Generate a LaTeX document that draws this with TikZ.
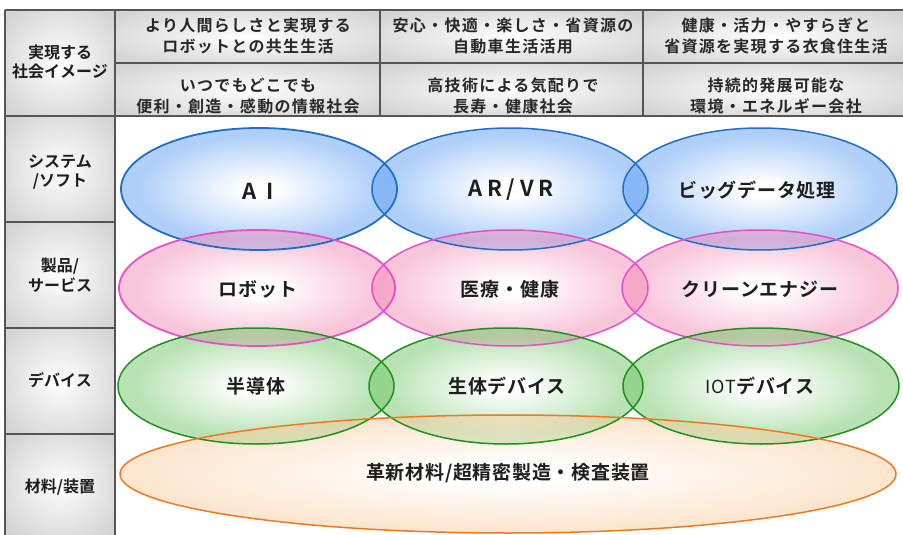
\documentclass[tikz,border=0pt]{standalone}
\usepackage{fontspec}
\setmainfont{Noto Sans CJK JP}[BoldFont={* Bold}]
\newfontfamily\hdrfont{Noto Sans CJK JP}[BoldFont={* Bold},LetterSpace=8]
\newfontfamily\sidefont{Noto Sans CJK JP}[BoldFont={* Bold}]
\newfontfamily\lblfont{Noto Sans CJK JP}[BoldFont={* Bold},LetterSpace=4]
\newfontfamily\latfont{Noto Sans CJK JP}[BoldFont={* Bold},LetterSpace=22]
\definecolor{bluebase}{RGB}{95,159,244}
\definecolor{pinkbase}{RGB}{242,140,182}
\definecolor{greenbase}{RGB}{114,198,104}
\definecolor{orangebase}{RGB}{250,205,160}
\definecolor{bluestroke}{RGB}{30,110,200}
\definecolor{pinkstroke}{RGB}{230,80,200}
\definecolor{greenstroke}{RGB}{30,145,30}
\definecolor{orangestroke}{RGB}{240,120,30}
\definecolor{gridline}{RGB}{85,85,85}
\definecolor{cellgray}{RGB}{212,212,212}
\definecolor{txtdark}{RGB}{30,30,30}
\definecolor{hdrtxt}{RGB}{40,40,40}
\pgfdeclareradialshading{blueshade}{\pgfpoint{0bp}{0bp}}{color(0bp)=(white); color(3bp)=(white); color(22bp)=(bluebase); color(50bp)=(bluebase)}
\pgfdeclareradialshading{pinkshade}{\pgfpoint{0bp}{0bp}}{color(0bp)=(white); color(3bp)=(white); color(22bp)=(pinkbase); color(50bp)=(pinkbase)}
\pgfdeclareradialshading{greenshade}{\pgfpoint{0bp}{0bp}}{color(0bp)=(white); color(3bp)=(white); color(22bp)=(greenbase); color(50bp)=(greenbase)}
\pgfdeclareradialshading{orangeshade}{\pgfpoint{0bp}{0bp}}{color(0bp)=(white); color(4bp)=(white); color(24bp)=(orangebase); color(50bp)=(orangebase)}
\pgfdeclareradialshading{cellshade}{\pgfpoint{0bp}{0bp}}{color(0bp)=(white); color(5bp)=(white!97!black); color(32bp)=(cellgray); color(50bp)=(cellgray)}
\tikzset{
  hdrtext/.style={align=center,inner sep=0pt,text=hdrtxt,font=\hdrfont\bfseries\fontsize{16}{21.5}\selectfont},
  sidetext/.style={align=center,inner sep=0pt,text=txtdark,font=\sidefont\bfseries\fontsize{16}{19.5}\selectfont},
  lbltext/.style={align=center,inner sep=0pt,text=txtdark,font=\lblfont\bfseries\fontsize{19}{22}\selectfont},
  gridrule/.style={draw=gridline,line width=1.5pt},
  ellfill/.style={opacity=0.5},
  ellline/.style={line width=1.5pt}
}
\begin{document}
\begin{tikzpicture}[x=1pt,y=-1pt]
\useasboundingbox (0,0) rectangle (903,535);
% cell backgrounds
\shade[shading=cellshade] (5,10) rectangle (115,116);
\shade[shading=cellshade] (5,116) rectangle (115,222);
\shade[shading=cellshade] (5,222) rectangle (115,328);
\shade[shading=cellshade] (5,328) rectangle (115,434);
\shade[shading=cellshade] (5,434) rectangle (115,535);
\shade[shading=cellshade] (115,10) rectangle (380,63);
\shade[shading=cellshade] (380,10) rectangle (643,63);
\shade[shading=cellshade] (643,10) rectangle (903,63);
\shade[shading=cellshade] (115,63) rectangle (380,116);
\shade[shading=cellshade] (380,63) rectangle (643,116);
\shade[shading=cellshade] (643,63) rectangle (903,116);
% grid
\draw[gridrule] (5,10) -- (903,10);
\draw[gridrule] (115,63) -- (903,63);
\draw[gridrule] (5,116) -- (903,116);
\draw[gridrule] (5,222) -- (115,222);
\draw[gridrule] (5,328) -- (115,328);
\draw[gridrule] (5,434) -- (115,434);
\draw[gridrule] (5,10) -- (5,535);
\draw[gridrule] (115,10) -- (115,535);
\draw[gridrule] (380,10) -- (380,116);
\draw[gridrule] (643,10) -- (643,116);
% header texts
\node[hdrtext] (h11) at (248,36) {より人間らしさと実現する\\ロボットとの共生生活};
\node[hdrtext] (h12) at (513,36) {安心・快適・楽しさ・省資源の\\自動車生活活用};
\node[hdrtext] (h13) at (776,36) {健康・活力・やすらぎと\\省資源を実現する衣食住生活};
\node[hdrtext] (h21) at (248,96) {いつでもどこでも\\便利・創造・感動の情報社会};
\node[hdrtext] (h22) at (513,96) {高技術による気配りで\\長寿・健康社会};
\node[hdrtext] (h23) at (776,96) {持続的発展可能な\\環境・エネルギー会社};
% side texts
\node[sidetext] (s0) at (60,62) {実現する\\社会イメージ};
\node[sidetext] (s1) at (60,172) {システム\\/ソフト};
\node[sidetext] (s2) at (60,275) {製品/\\サービス};
\node[sidetext] (s3) at (60,380) {デバイス};
\node[sidetext] (s4) at (60,487) {材料/装置};
% ellipse fills
\shade[shading=blueshade,ellfill] (259,189) ellipse [x radius=138pt, y radius=61pt];
\shade[shading=blueshade,ellfill] (510,189) ellipse [x radius=138pt, y radius=61pt];
\shade[shading=blueshade,ellfill] (760,189) ellipse [x radius=137pt, y radius=61pt];
\shade[shading=pinkshade,ellfill] (257,288) ellipse [x radius=138pt, y radius=58pt];
\shade[shading=pinkshade,ellfill] (510,288) ellipse [x radius=138pt, y radius=58pt];
\shade[shading=pinkshade,ellfill] (760,288) ellipse [x radius=138pt, y radius=58pt];
\shade[shading=greenshade,ellfill] (256,386) ellipse [x radius=138pt, y radius=58pt];
\shade[shading=greenshade,ellfill] (506,386) ellipse [x radius=137pt, y radius=58pt];
\shade[shading=greenshade,ellfill] (761,386) ellipse [x radius=138pt, y radius=58pt];
\shade[shading=orangeshade,ellfill] (508,474) ellipse [x radius=388pt, y radius=59pt];
% ellipse outlines
\draw[ellline,draw=bluestroke,line width=1.8pt] (259,189) ellipse [x radius=138pt, y radius=61pt];
\draw[ellline,draw=bluestroke] (510,189) ellipse [x radius=138pt, y radius=61pt];
\draw[ellline,draw=bluestroke] (760,189) ellipse [x radius=137pt, y radius=61pt];
\draw[ellline,draw=pinkstroke,line width=1.8pt] (257,288) ellipse [x radius=138pt, y radius=58pt];
\draw[ellline,draw=pinkstroke] (510,288) ellipse [x radius=138pt, y radius=58pt];
\draw[ellline,draw=pinkstroke] (760,288) ellipse [x radius=138pt, y radius=58pt];
\draw[ellline,draw=greenstroke] (256,386) ellipse [x radius=138pt, y radius=58pt];
\draw[ellline,draw=greenstroke] (506,386) ellipse [x radius=137pt, y radius=58pt];
\draw[ellline,draw=greenstroke] (761,386) ellipse [x radius=138pt, y radius=58pt];
\draw[ellline,draw=orangestroke] (508,474) ellipse [x radius=388pt, y radius=59pt];
% ellipse labels
\node[lbltext,font=\latfont\bfseries\fontsize{22}{22}\selectfont] (ai) at (258,191) {A I};
\node[lbltext,font=\latfont\bfseries\fontsize{22}{22}\selectfont] (arvr) at (511,190) {AR/VR};
\node[lbltext] (bd) at (757,190) {ビッグデータ処理};
\node[lbltext] (rb) at (258,289) {ロボット};
\node[lbltext] (med) at (510,289) {医療・健康};
\node[lbltext] (ce) at (760,289) {クリーンエナジー};
\node[lbltext] (semi) at (256,386) {半導体};
\node[lbltext] (bio) at (507,386) {生体デバイス};
\node[lbltext] (iot) at (760,386) {{\mdseries\fontsize{18}{22}\selectfont IOT}デバイス};
\node[lbltext] (mat) at (508,473) {革新材料/超精密製造・検査装置};
\end{tikzpicture}
\end{document}
